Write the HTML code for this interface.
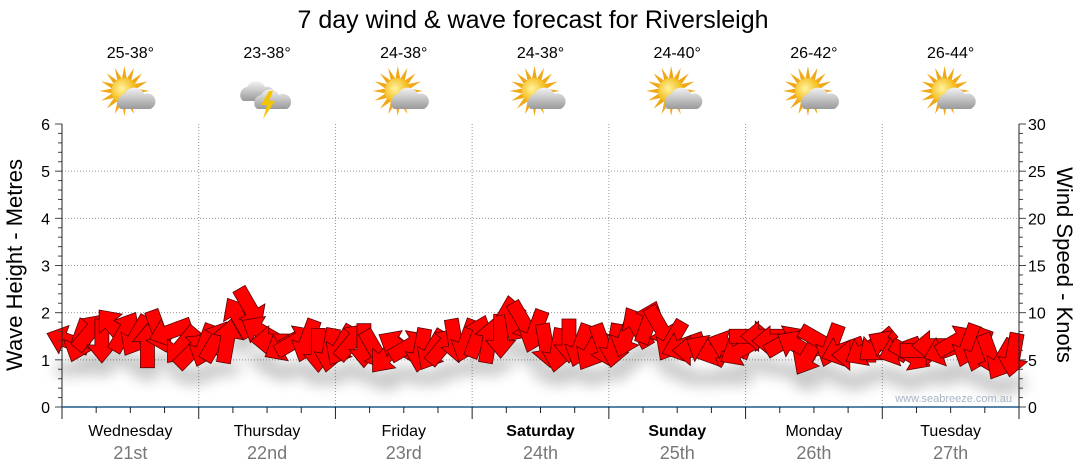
<!DOCTYPE html>
<html><head><meta charset="utf-8"><style>
body{margin:0;background:#fff;}
svg{display:block;font-family:"Liberation Sans",sans-serif;}
</style></head><body>
<svg id="chart" width="1080" height="475" viewBox="0 0 1080 475">
<defs>
<filter id="sh" x="-50%" y="-50%" width="200%" height="200%"><feGaussianBlur stdDeviation="7"/></filter>
<radialGradient id="sun" cx="0.4" cy="0.4" r="0.6"><stop offset="0" stop-color="#fff3a0"/><stop offset="1" stop-color="#f2b000"/></radialGradient>
<linearGradient id="cloud" x1="0" y1="0" x2="0" y2="1"><stop offset="0" stop-color="#f2f2f2"/><stop offset="1" stop-color="#9a9a9a"/></linearGradient>
</defs>
<text x="533" y="28" font-size="25" text-anchor="middle" fill="#000">7 day wind &amp; wave forecast for Riversleigh</text>
<g id="grid"></g>
<g id="icons"></g>
<g id="shadows" filter="url(#sh)" opacity="0.22"></g>
<g id="arrows"></g>
<g id="axes"></g>
<text transform="translate(22,265) rotate(-90)" font-size="22" text-anchor="middle">Wave Height - Metres</text>
<text transform="translate(1057,265) rotate(90)" font-size="22" text-anchor="middle">Wind Speed - Knots</text>
<text x="1012" y="402" font-size="11" fill="#a8b4c4" text-anchor="end">www.seabreeze.com.au</text>
</svg>
<script>
const days=["Wednesday","Thursday","Friday","Saturday","Sunday","Monday","Tuesday"];
const dates=["21st","22nd","23rd","24th","25th","26th","27th"];
const temps=["25-38°","23-38°","24-38°","24-38°","24-40°","26-42°","26-44°"];
const iconTypes=["suncloud","storm","suncloud","suncloud","suncloud","suncloud","suncloud"];
const waveTicks=[0,1,2,3,4,5,6];
const windTicks=[0,5,10,15,20,25,30];
const windSpeed=[7,7,8,7,8.5,8,7.5,6.5,8,8,6.5,6,
6.5,7,7,9.5,10.5,8,7,6.5,7,7,6,6,
6.5,7,6.5,6,5.5,6.5,6.5,6,6,6.5,7,7,
7.5,7,7.5,9.5,9,8,6.5,6,7,6.5,6,6.5,
6.5,7.5,8.5,9,8.5,7,6.5,6,6,6,6.5,6,
7.5,7.5,7,7,6.5,5.5,7,6.5,6,5.5,6,6.5,
6.5,6,5.5,6,6.5,6,7,6.5,6,5.5,5,5.5];
const windDir=[290,200,40,180,320,30,210,0,160,250,220,45,
200,30,10,330,150,300,270,240,60,200,180,190,
210,40,180,150,220,300,60,190,210,40,170,200,
20,10,180,350,150,200,170,190,180,200,210,160,
190,200,330,20,150,210,250,270,300,250,290,240,
90,270,270,60,300,210,120,200,250,270,240,230,
300,250,120,90,270,250,60,200,200,160,210,190];
const NS="http://www.w3.org/2000/svg";
const X0=62,X1=1019,Y0=407,Y1=124;
function xScale(h){return X0+(X1-X0)*h/168;}
function yWave(m){return Y0-(Y0-Y1)*m/6;}
function yWind(k){return Y0-(Y0-Y1)*k/30;}
function mk(t,a,p){const e=document.createElementNS(NS,t);for(const k in a)e.setAttribute(k,a[k]);(p||document.getElementById('chart')).appendChild(e);return e;}
const grid=document.getElementById('grid'),axes=document.getElementById('axes');
waveTicks.forEach(v=>{if(v>0&&v<6){const l=mk('line',{x1:X0,x2:X1,y1:yWave(v),y2:yWave(v),stroke:'#999','stroke-dasharray':'1,2'},grid);

}
const t=mk('text',{x:X0-12,y:yWave(v)+6,'font-size':16,'text-anchor':'end'},axes);t.textContent=v;

});
windTicks.forEach(v=>{const t=mk('text',{x:X1+9,y:yWind(v)+6,'font-size':16},axes);t.textContent=v;

});
for(let i=0;i<=30;i++){mk('line',{x1:X0-(i%5?4:7),x2:X0,y1:yWave(i/5),y2:yWave(i/5),stroke:'#444'},axes);
mk('line',{x1:X1,x2:X1+(i%5?4:7),y1:yWind(i),y2:yWind(i),stroke:'#444'},axes);}
mk('line',{x1:X0,x2:X0,y1:Y1,y2:Y0,stroke:'#222'},axes);
mk('line',{x1:X1,x2:X1,y1:Y1,y2:Y0,stroke:'#222'},axes);
mk('line',{x1:X0,x2:X1,y1:Y0,y2:Y0,stroke:'#1f5a8a','stroke-width':1.5},axes);
for(let h=0;h<=168;h+=6){const x=xScale(h);mk('line',{x1:x,x2:x,y1:Y0,y2:Y0+(h%24?6:12),stroke:'#222'},axes);
if(h%24==0&&h>0&&h<168){const l=mk('line',{x1:x,x2:x,y1:Y1,y2:Y0,stroke:'#999','stroke-dasharray':'1,2'},grid);

}}
const icons=document.getElementById('icons');
days.forEach((d,i)=>{const cx=xScale(24*i+12);const bold=(i==3||i==4)?'bold':'normal';
const a=mk('text',{x:cx,y:436,'font-size':16,'text-anchor':'middle','font-weight':bold},axes);a.textContent=d;


const b=mk('text',{x:cx,y:459,'font-size':18,'text-anchor':'middle',fill:'#777'},axes);b.textContent=dates[i];


const c=mk('text',{x:cx,y:58,'font-size':16,'text-anchor':'middle'},icons);c.textContent=temps[i];


const g=mk('g',{transform:`translate(${cx},95)`},icons);


if(iconTypes[i]=='suncloud'){for(let r=0;r<16;r++){const ang=r*22.5;mk('polygon',{points:'-2.5,-12 0,-25 2.5,-12',fill:'#f0a818',transform:`translate(-6,-4) rotate(${ang})`},g);}
mk('circle',{cx:-6,cy:-4,r:13,fill:'url(#sun)'},g);
mk('path',{d:'M-10,14 a9,9 0 0 1 4,-15 a11,11 0 0 1 20,0 a8,8 0 0 1 6,15 z',fill:'url(#cloud)'},g);}
else{mk('path',{d:'M-24,6 a8,8 0 0 1 4,-14 a10,10 0 0 1 18,0 a7,7 0 0 1 4,14 z',fill:'url(#cloud)'},g);
mk('path',{d:'M-10,14 a8,8 0 0 1 4,-14 a10,10 0 0 1 18,0 a7,7 0 0 1 8,14 z',fill:'url(#cloud)'},g);
mk('polygon',{points:'2,-4 -6,10 0,10 -4,24 8,6 2,6 6,-4',fill:'#f5c400'},g);}
});
const ar=document.getElementById('arrows'),sh=document.getElementById('shadows');
const shape='0,-22 15,-4 7,-4 7,22 -7,22 -7,-4 -15,-4';
windSpeed.forEach((s,i)=>{const x=xScale(i*2+1),y=yWind(s);
mk('ellipse',{cx:x,cy:y+28,rx:14,ry:7,fill:'#000'},sh);
const p=mk('polygon',{points:shape,transform:`translate(${x},${y}) rotate(${windDir[i]})`,fill:'#ff0000',stroke:'#5a0000','stroke-width':0.8},ar);

});
</script>
</body></html>
